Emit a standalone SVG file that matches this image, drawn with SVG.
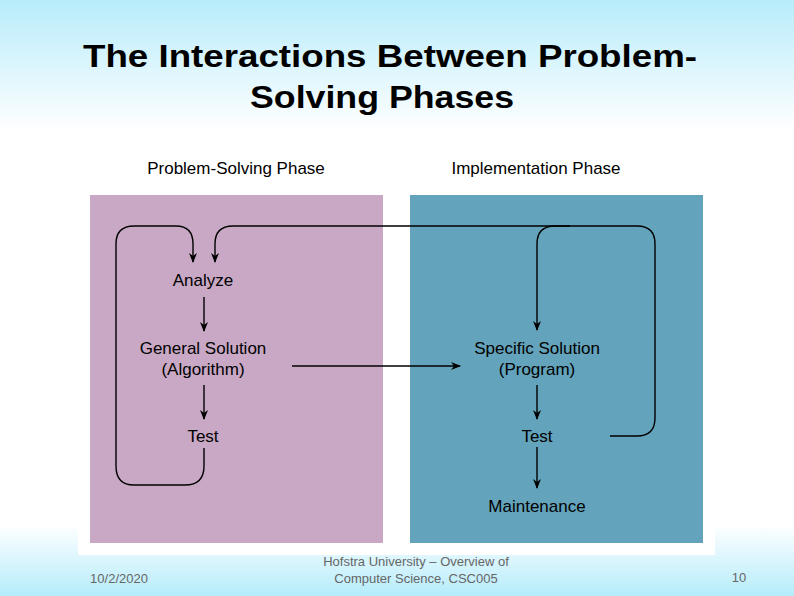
<svg xmlns="http://www.w3.org/2000/svg" width="794" height="596" viewBox="0 0 794 596">
<defs>
<linearGradient id="bg" x1="0" y1="0" x2="0" y2="1">
<stop offset="0" stop-color="#b8ecfb"/><stop offset="0.22" stop-color="#ffffff"/><stop offset="0.88" stop-color="#ffffff"/><stop offset="1" stop-color="#b5ecfb"/>
</linearGradient>
<marker id="ah" markerWidth="10" markerHeight="10" refX="9" refY="5" orient="auto" markerUnits="userSpaceOnUse"><path d="M0,1 L10,5 L0,9 L3,5 Z" fill="#000"/></marker>
<style>
.t{font-family:"Liberation Sans",Arial,sans-serif;font-size:17px;fill:#000;text-anchor:middle}
.c{fill:none;stroke:#000;stroke-width:1.4}
.f{font-family:"Liberation Sans",Arial,sans-serif;font-size:13px;fill:#666;text-anchor:middle}
.h{font-family:"Liberation Sans",Arial,sans-serif;font-size:31px;font-weight:bold;fill:#000}
</style>
</defs>
<rect width="794" height="596" fill="url(#bg)"/>
<text class="h" x="83" y="67" textLength="614" lengthAdjust="spacingAndGlyphs">The Interactions Between Problem-</text>
<text class="h" x="250" y="108" textLength="264" lengthAdjust="spacingAndGlyphs">Solving Phases</text>
<rect x="78" y="145" width="637" height="410" fill="#fff"/>
<text class="t" x="236" y="174">Problem-Solving Phase</text>
<text class="t" x="536" y="174">Implementation Phase</text>
<rect x="90" y="195" width="293" height="348" fill="#c9a8c5"/>
<rect x="410" y="195" width="293" height="348" fill="#63a3bb"/>
<g id="connectors">
<path class="c" d="M204,448 V466 Q204,485 185,485 H134 Q116,485 116,466 V244 Q116,226 134,226 H176 Q193,226 193,244 V262" marker-end="url(#ah)"/>
<path class="c" d="M610,436 H637 Q655,436 655,418 V244 Q655,226 637,226 H233 Q215,226 215,244 V262" marker-end="url(#ah)"/>
<path class="c" d="M570,226 H555 Q537,226 537,244 V330" marker-end="url(#ah)"/>
<path class="c" d="M204,297 V331" marker-end="url(#ah)"/>
<path class="c" d="M204,385 V419" marker-end="url(#ah)"/>
<path class="c" d="M537,385 V419" marker-end="url(#ah)"/>
<path class="c" d="M537,447 V488" marker-end="url(#ah)"/>
<path class="c" d="M292,366 H460" marker-end="url(#ah)"/>
</g>
<g id="analyze"><text class="t" x="203" y="286">Analyze</text></g>
<g id="general"><text class="t" x="203" y="354">General Solution</text><text class="t" x="203" y="375">(Algorithm)</text></g>
<g id="test1"><text class="t" x="203" y="442">Test</text></g>
<g id="specific"><text class="t" x="537" y="354">Specific Solution</text><text class="t" x="537" y="375">(Program)</text></g>
<g id="test2"><text class="t" x="537" y="442">Test</text></g>
<g id="maintenance"><text class="t" x="537" y="512">Maintenance</text></g>
<text class="f" x="119" y="583">10/2/2020</text>
<text class="f" x="416" y="566">Hofstra University – Overview of</text>
<text class="f" x="416" y="583">Computer Science, CSC005</text>
<text class="f" x="739" y="582">10</text>
</svg>
